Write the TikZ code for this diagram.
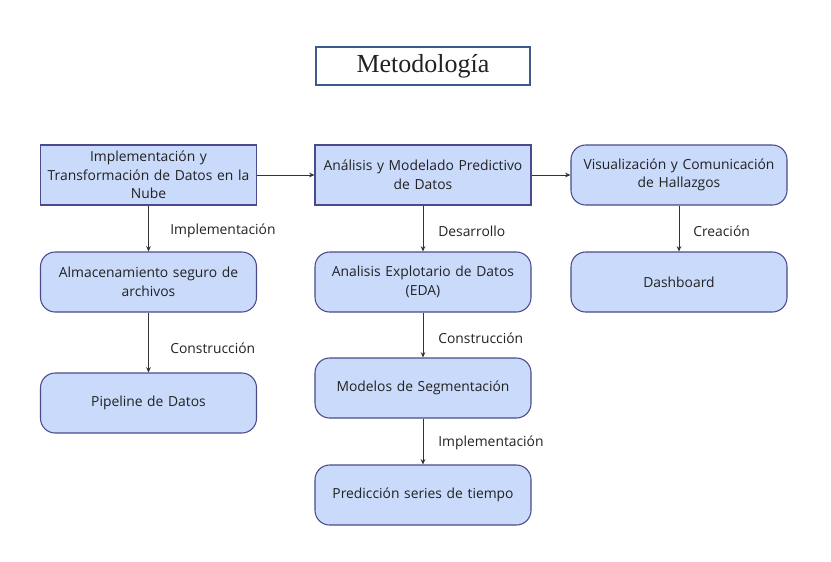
\documentclass[tikz,border=0pt]{standalone}
\usepackage{fontspec}
\setmainfont{Open Sans}
\newfontfamily\titlefont{Liberation Serif}
\usetikzlibrary{arrows.meta,positioning}
\definecolor{metoFill}{HTML}{C9DAFA}
\definecolor{metoLine}{HTML}{4B4A8C}
\definecolor{metoTitle}{HTML}{3D5A8A}
\definecolor{metoArrow}{HTML}{333333}
\definecolor{metoText}{HTML}{222222}

\begin{document}
\begin{tikzpicture}[x=0.75pt,y=-0.75pt,
    every node/.style={font=\fontsize{10.4}{14}\selectfont, text=metoText},
    flatbox/.style={draw=metoLine, fill=metoFill, line width=0.8pt,
      minimum width=162pt, minimum height=45pt, align=center, text width=158pt, inner sep=2pt},
    roundbox/.style={flatbox, rounded corners=11pt},
    flow/.style={-{Stealth[length=4pt,width=3.5pt]}, draw=metoArrow, line width=0.7pt},
    steplabel/.style={anchor=west, inner sep=0pt}]
    \useasboundingbox (0,0) rectangle (831,561);
    % titulo
    \node[draw=metoTitle, line width=1.4pt, minimum width=160pt, minimum height=28pt,
      font=\titlefont\fontsize{19.5}{21}\selectfont] (title) at (423,66) {Metodología};
    % fila superior
    \node[flatbox] (nube) at (148.5,175) {Implementación y\\Transformación de Datos en la\\Nube};
    \node[flatbox] (modelado) at (423,175) {Análisis y Modelado Predictivo\\de Datos};
    \node[roundbox] (visual) at (679,175) {Visualización y Comunicación\\de Hallazgos};
    % columna izquierda
    \node[roundbox] (almacen) at (148.5,282) {Almacenamiento seguro de\\archivos};
    \node[roundbox] (pipeline) at (148.5,403) {Pipeline de Datos};
    % columna central
    \node[roundbox] (eda) at (423,282) {Analisis Explotario de Datos\\(EDA)};
    \node[roundbox] (segment) at (423,388) {Modelos de Segmentación};
    \node[roundbox] (series) at (423,495) {Predicción series de tiempo};
    % columna derecha
    \node[roundbox] (dash) at (679,282) {Dashboard};
    % conectores
    \draw[flow] (nube) -- (modelado);
    \draw[flow] (modelado) -- (visual);
    \draw[flow] (nube) -- (almacen);
    \draw[flow] (almacen) -- (pipeline);
    \draw[flow] (modelado) -- (eda);
    \draw[flow] (eda) -- (segment);
    \draw[flow] (segment) -- (series);
    \draw[flow] (visual) -- (dash);
    % etiquetas
    \node[steplabel] (lblA) at (170,231) {Implementación};
    \node[steplabel] (lblB) at (170,348) {Construcción};
    \node[steplabel] (lblC) at (438,231) {Desarrollo};
    \node[steplabel] (lblD) at (438,338) {Construcción};
    \node[steplabel] (lblE) at (438,443) {Implementación};
    \node[steplabel] (lblF) at (693,231) {Creación};
  \end{tikzpicture}
\end{document}
